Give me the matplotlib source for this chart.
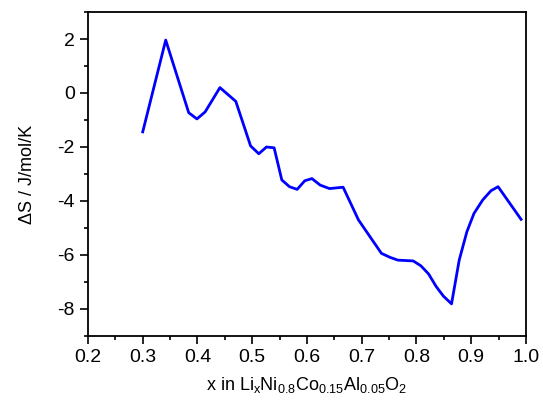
import matplotlib
matplotlib.use("Agg")
import matplotlib.pyplot as plt
from matplotlib.ticker import MultipleLocator

plt.rcParams['font.family'] = ['Liberation Sans', 'DejaVu Sans']
plt.rcParams['mathtext.fontset'] = 'custom'
plt.rcParams['mathtext.rm'] = 'Liberation Sans'
plt.rcParams['mathtext.it'] = 'Liberation Sans'
plt.rcParams['axes.unicode_minus'] = False

# 熵变曲线数据
x_li = [0.300, 0.342, 0.384, 0.399, 0.414, 0.441, 0.470, 0.497, 0.512, 0.526,
        0.540, 0.554, 0.568, 0.582, 0.596, 0.609, 0.624, 0.641, 0.666, 0.694,
        0.736, 0.752, 0.766, 0.794, 0.808, 0.822, 0.836, 0.849, 0.864, 0.878,
        0.892, 0.905, 0.921, 0.936, 0.949, 0.991]
delta_s = [-1.44, 1.96, -0.73, -0.96, -0.70, 0.20, -0.31, -1.96, -2.25, -2.00,
           -2.03, -3.22, -3.47, -3.57, -3.25, -3.17, -3.41, -3.54, -3.49, -4.70,
           -5.94, -6.09, -6.19, -6.22, -6.40, -6.70, -7.17, -7.52, -7.81, -6.19,
           -5.14, -4.46, -3.96, -3.62, -3.47, -4.68]

fig = plt.figure(figsize=(5.43, 4.11), dpi=100)
ax = fig.add_axes([0.162, 0.1825, 0.8067, 0.7883])

ax.plot(x_li, delta_s, color='#0000ff', linewidth=2)

ax.set_xlim(0.2, 1.0)
ax.set_ylim(-9, 3)
ax.xaxis.set_major_locator(MultipleLocator(0.1))
ax.xaxis.set_minor_locator(MultipleLocator(0.05))
ax.yaxis.set_major_locator(MultipleLocator(2))
ax.yaxis.set_minor_locator(MultipleLocator(1))
ax.tick_params(which='major', direction='out', length=6, width=1.2, labelsize=14)
ax.tick_params(which='minor', direction='out', length=3, width=1.2)
for s in ax.spines.values():
    s.set_linewidth(1.3)

ax.set_xlabel(r'x in Li$_{\mathregular{x}}$Ni$_{\mathregular{0.8}}$Co$_{\mathregular{0.15}}$'
              r'Al$_{\mathregular{0.05}}$O$_{\mathregular{2}}$', fontsize=13, labelpad=6)
ax.set_ylabel('ΔS / J/mol/K', fontsize=13, labelpad=15)

fig.savefig('out.png', dpi=100)
